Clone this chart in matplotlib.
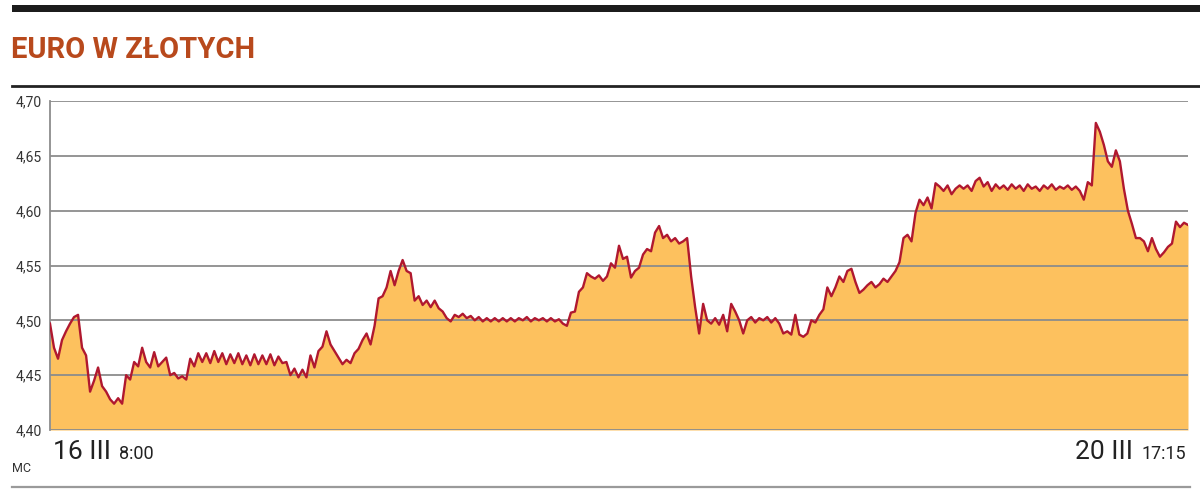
import numpy as np
import matplotlib
matplotlib.use('Agg')
import matplotlib.pyplot as plt
from matplotlib.patches import Rectangle
from matplotlib.lines import Line2D

# EUR/PLN readings, 16 III 8:00 -> 20 III 17:15
rate = [
    4.497, 4.475, 4.465, 4.482, 4.490, 4.497, 4.503, 4.505, 4.475, 4.468,
    4.435, 4.445, 4.457, 4.440, 4.435, 4.428, 4.424, 4.429, 4.424, 4.450,
    4.446, 4.462, 4.458, 4.475, 4.462, 4.457, 4.471, 4.458, 4.462, 4.466,
    4.450, 4.452, 4.447, 4.449, 4.446, 4.465, 4.458, 4.470, 4.462, 4.470,
    4.461, 4.472, 4.462, 4.470, 4.460, 4.469, 4.461, 4.470, 4.460, 4.468,
    4.459, 4.469, 4.460, 4.468, 4.460, 4.469, 4.459, 4.467, 4.461, 4.462,
    4.450, 4.456, 4.448, 4.455, 4.448, 4.468, 4.457, 4.472, 4.476, 4.490,
    4.478, 4.472, 4.466, 4.460, 4.464, 4.461, 4.470, 4.474, 4.482, 4.488,
    4.478, 4.495, 4.520, 4.522, 4.530, 4.545, 4.532, 4.545, 4.555, 4.545,
    4.543, 4.518, 4.522, 4.514, 4.518, 4.512, 4.518, 4.511, 4.508, 4.502,
    4.499, 4.505, 4.503, 4.506, 4.502, 4.504, 4.500, 4.503, 4.499, 4.502,
    4.499, 4.502, 4.499, 4.502, 4.499, 4.502, 4.499, 4.502, 4.500, 4.503,
    4.499, 4.502, 4.500, 4.502, 4.499, 4.502, 4.499, 4.501, 4.497, 4.495,
    4.507, 4.508, 4.526, 4.530, 4.543, 4.540, 4.538, 4.541, 4.536, 4.540,
    4.552, 4.548, 4.568, 4.556, 4.558, 4.539, 4.545, 4.548, 4.560, 4.565,
    4.563, 4.580, 4.586, 4.575, 4.578, 4.572, 4.575, 4.570, 4.572, 4.575,
    4.540, 4.512, 4.488, 4.515, 4.500, 4.497, 4.502, 4.496, 4.505, 4.490,
    4.515, 4.508, 4.500, 4.488, 4.500, 4.503, 4.498, 4.502, 4.500, 4.503,
    4.498, 4.502, 4.497, 4.488, 4.490, 4.487, 4.505, 4.487, 4.485, 4.488,
    4.500, 4.498, 4.505, 4.510, 4.530, 4.522, 4.530, 4.540, 4.535, 4.545,
    4.547, 4.535, 4.525, 4.528, 4.532, 4.535, 4.530, 4.533, 4.538, 4.535,
    4.540, 4.545, 4.553, 4.575, 4.578, 4.572, 4.598, 4.610, 4.605, 4.612,
    4.602, 4.625, 4.622, 4.618, 4.623, 4.615, 4.620, 4.623, 4.620, 4.623,
    4.618, 4.627, 4.630, 4.622, 4.626, 4.618, 4.624, 4.620, 4.623, 4.619,
    4.624, 4.620, 4.623, 4.618, 4.624, 4.620, 4.622, 4.618, 4.623, 4.620,
    4.624, 4.619, 4.622, 4.620, 4.623, 4.619, 4.622, 4.618, 4.610, 4.626,
    4.623, 4.680, 4.672, 4.660, 4.645, 4.640, 4.655, 4.645, 4.620, 4.600,
    4.588, 4.575, 4.575, 4.572, 4.563, 4.575, 4.565, 4.558, 4.562, 4.567,
    4.570, 4.590, 4.585, 4.589, 4.587,
]
y_ticks = [4.40, 4.45, 4.50, 4.55, 4.60, 4.65, 4.70]
y_labels = ['4,40', '4,45', '4,50', '4,55', '4,60', '4,65', '4,70']

title = 'EURO W ZŁOTYCH'
start_day, start_time = '16 III', '8:00'
end_day, end_time = '20 III', '17:15'
source = 'MC'

W, H = 1200, 497
plt.rcParams['font.family'] = ['Roboto', 'DejaVu Sans']

def px(x, y):
    # pixel coords (from top-left) -> figure fraction
    return x / W, 1 - y / H

fig = plt.figure(figsize=(W / 100, H / 100), dpi=100)

# header bars and title
fig.add_artist(Rectangle(px(12, 12), (W - 12) / W, 7 / H, transform=fig.transFigure,
                         color='#1c1c1c', lw=0))
fig.text(*px(11, 50), title, color='#b8491c', fontsize=21, fontweight='bold',
         va='center', ha='left')
fig.add_artist(Line2D([12 / W, 1.0], [1 - 86 / H] * 2, transform=fig.transFigure,
                      color='#222222', lw=2))
fig.add_artist(Line2D([12 / W, 1190 / W], [1 - 487 / H] * 2, transform=fig.transFigure,
                      color='#9a9a9a', lw=1.6))

ax = fig.add_axes([50 / W, 1 - 430 / H, 1138 / W, 329 / H])
x = np.arange(len(rate))
ax.fill_between(x, rate, 4.40, color='#fdc15e', lw=0, zorder=1)
ax.plot(x, rate, color='#b0182f', lw=1.7, zorder=3)
ax.set_xlim(0, len(rate) - 1)
ax.set_ylim(4.40, 4.70)
ax.set_yticks(y_ticks)
ax.set_yticklabels(y_labels)
ax.tick_params(axis='y', length=0, pad=6, labelsize=10, labelcolor='#333333')
ax.set_xticks([])
for g in y_ticks:
    ax.axhline(g, color='#8c8c8c', lw=1.3, zorder=2)
for s in ['top', 'right', 'bottom']:
    ax.spines[s].set_visible(False)
ax.spines['left'].set_color('#8c8c8c')
ax.spines['left'].set_linewidth(1.3)

# bottom date labels
fig.text(*px(53, 452), start_day, fontsize=19, color='#222222', va='center', ha='left')
fig.text(*px(119, 454), start_time, fontsize=13, color='#222222', va='center', ha='left')
fig.text(*px(1133, 452), end_day, fontsize=19, color='#222222', va='center', ha='right')
fig.text(*px(1186, 454), end_time, fontsize=13, color='#222222', va='center', ha='right')
fig.text(*px(12, 468), source, fontsize=9, color='#333333', va='center', ha='left')

fig.savefig('out.png', dpi=100)
